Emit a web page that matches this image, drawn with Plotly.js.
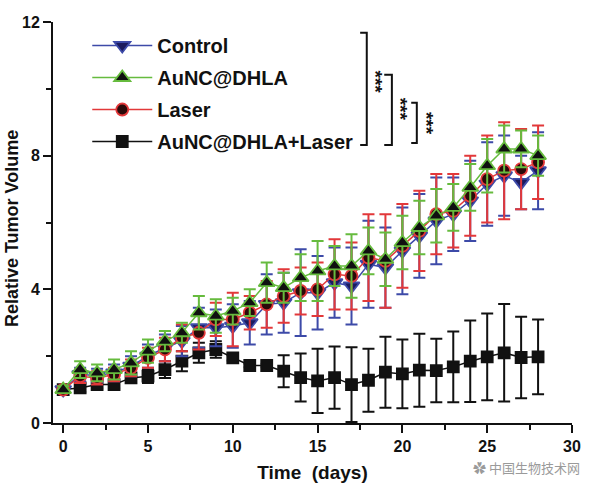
<!DOCTYPE html>
<html>
<head>
<meta charset="utf-8">
<script src="https://cdn.plot.ly/plotly-3.0.1.min.js"></script>
<style>html,body{margin:0;padding:0;background:#fff;}#chart{width:593px;height:499px;}</style>
</head>
<body>
<div id="chart"></div>
<script>
// Time points (days)
const days = [0,1,2,3,4,5,6,7,8,9,10,11,12,13,14,15,16,17,18,19,20,21,22,23,24,25,26,27,28];

// Control
const controlMean = [1.0,1.45,1.42,1.5,1.7,2.0,2.25,2.45,2.85,2.85,2.9,3.0,3.55,3.6,3.9,3.9,4.2,4.1,4.75,4.65,5.15,5.6,6.05,6.25,6.65,7.15,7.4,7.2,7.55];
const controlErr  = [0.1,0.2,0.2,0.25,0.3,0.35,0.4,0.45,0.6,0.55,0.65,0.65,0.9,0.9,1.3,1.1,1.05,1.15,1.3,1.2,1.3,1.25,1.3,1.1,1.2,1.25,1.2,0.8,1.15];

// AuNC@DHLA
const auncMean = [1.0,1.6,1.5,1.6,1.8,2.15,2.45,2.7,3.3,3.2,3.35,3.6,4.2,4.05,4.35,4.55,4.7,4.7,5.15,4.9,5.4,5.85,6.2,6.45,7.05,7.7,8.2,8.2,8.0];
const auncErr  = [0.1,0.25,0.25,0.3,0.35,0.35,0.3,0.3,0.5,0.5,0.4,0.4,0.6,0.45,0.7,0.9,0.6,0.95,0.7,0.8,0.8,0.8,0.8,0.7,0.7,0.8,0.7,0.55,0.6];

// Laser
const laserMean = [1.0,1.4,1.35,1.45,1.65,1.95,2.2,2.55,2.7,3.1,3.1,3.3,3.55,3.8,3.95,4.0,4.45,4.4,4.95,4.85,5.3,5.75,6.25,6.35,6.8,7.3,7.55,7.6,7.8];
const laserErr  = [0.1,0.2,0.2,0.2,0.25,0.3,0.35,0.4,0.5,0.5,0.8,0.5,0.7,0.8,0.7,0.8,1.05,1.0,1.3,1.4,1.25,1.2,1.2,1.1,1.2,1.3,1.45,1.2,1.1];

// AuNC@DHLA+Laser
const comboMean = [1.0,1.05,1.15,1.15,1.35,1.4,1.6,1.85,2.1,2.2,1.95,1.72,1.72,1.55,1.36,1.26,1.36,1.15,1.28,1.52,1.47,1.58,1.57,1.68,1.85,1.98,2.1,1.96,1.98];
const comboErr  = [0.05,0.12,0.12,0.12,0.15,0.2,0.25,0.3,0.3,0.25,0.08,0.05,0.05,0.48,0.72,0.96,0.93,1.12,0.94,1.06,1.03,1.09,0.95,1.06,1.22,1.3,1.46,1.22,1.12];

const seriesNames = ["Control","AuNC@DHLA","Laser","AuNC@DHLA+Laser"];
const xTicks = [0,5,10,15,20,25,30];
const yTicks = [0,4,8,12];

const FONT = "Liberation Sans, Arial, Helvetica, sans-serif";

function trace(name, y, err, lineColor, symbol, fill, size, rank){
  return {
    x: days, y: y, name: name, type: 'scatter', mode: 'lines+markers',
    legendrank: rank, legendgroup: name,
    line: {color: lineColor, width: 1.5},
    marker: {symbol: symbol, size: size, color: fill, line: {color: lineColor, width: 1.8}},
    error_y: {type: 'data', array: err, visible: true, color: lineColor, thickness: 2, width: 6}
  };
}

const data = [
  trace(seriesNames[3], comboMean, comboErr, '#111111', 'square', '#111111', 11, 4),
  trace(seriesNames[0], controlMean, controlErr, '#3d4aa8', 'triangle-down', '#1b1b5e', 14, 1),
  trace(seriesNames[2], laserMean, laserErr, '#e2383a', 'circle', '#2a0a0a', 12, 3),
  trace(seriesNames[1], auncMean, auncErr, '#66bb3e', 'triangle-up', '#101010', 14, 2)
];

const axisFont = {family: FONT, size: 16, color: '#111', weight: 'bold'};
const starFont = {family: FONT, size: 19, color: '#111', weight: 'bold'};

const layout = {
  width: 593, height: 499,
  margin: {l: 53, r: 21, t: 22, b: 76},
  paper_bgcolor: '#fff', plot_bgcolor: '#fff',
  showlegend: true,
  legend: {x: 0.066, y: 0.99, xanchor: 'left', yanchor: 'top', bgcolor: 'rgba(0,0,0,0)',
           font: {family: FONT, size: 20, color: '#111', weight: 'bold'},
           itemwidth: 60, traceorder: 'grouped', tracegroupgap: 3},
  xaxis: {
    range: [-0.6, 30], showgrid: false, zeroline: false,
    showline: true, linecolor: '#111', linewidth: 2,
    ticks: 'outside', ticklen: 8, tickwidth: 2, tickcolor: '#111',
    tickvals: xTicks, ticktext: xTicks.map(String), tickfont: axisFont,
    minor: {dtick: 2.5, tick0: 0, ticks: 'outside', ticklen: 5, tickwidth: 2, tickcolor: '#111', showgrid: false},
    title: {text: 'Time  (days)', font: {family: FONT, size: 19, color: '#111', weight: 'bold'}, standoff: 11}
  },
  yaxis: {
    range: [0, 12], showgrid: false, zeroline: false,
    showline: true, linecolor: '#111', linewidth: 2,
    ticks: 'outside', ticklen: 8, tickwidth: 2, tickcolor: '#111',
    tickvals: yTicks, ticktext: yTicks.map(String), tickfont: axisFont,
    minor: {dtick: 2, tick0: 0, ticks: 'outside', ticklen: 5, tickwidth: 2, tickcolor: '#111', showgrid: false}
  },
  shapes: [
    {type:'path', xref:'x', yref:'y', path:'M17.51,11.68 L17.9,11.68 L17.9,8.32 L17.51,8.32', line:{color:'#111', width:2}},
    {type:'path', xref:'x', yref:'y', path:'M18.93,10.42 L19.38,10.42 L19.38,8.32 L18.93,8.32', line:{color:'#111', width:2}},
    {type:'path', xref:'x', yref:'y', path:'M20.52,9.58 L20.85,9.58 L20.85,8.38 L20.52,8.38', line:{color:'#111', width:2}}
  ],
  annotations: [
    {xref:'paper', yref:'paper', x:-0.079, y:0.486, text:'Relative Tumor Volume', showarrow:false, textangle:-90,
     xanchor:'center', yanchor:'middle', font:{family:FONT, size:18, color:'#111', weight:'bold'}},
    {xref:'x', yref:'y', x:18.4, y:10.21, text:'***', showarrow:false, textangle:90, font:starFont},
    {xref:'x', yref:'y', x:19.87, y:9.40, text:'***', showarrow:false, textangle:90, font:starFont},
    {xref:'x', yref:'y', x:21.39, y:8.95, text:'***', showarrow:false, textangle:90, font:starFont},
    {xref:'paper', yref:'paper', x:1.02, y:-0.11, xanchor:'right', yanchor:'middle', text:'✿ 中国生物技术网', showarrow:false,
     font:{family:'Noto Sans CJK SC, sans-serif', size:13, color:'#9a9a9a'}}
  ]
};

Plotly.newPlot('chart', data, layout, {displayModeBar: false, staticPlot: true});
</script>
</body>
</html>
